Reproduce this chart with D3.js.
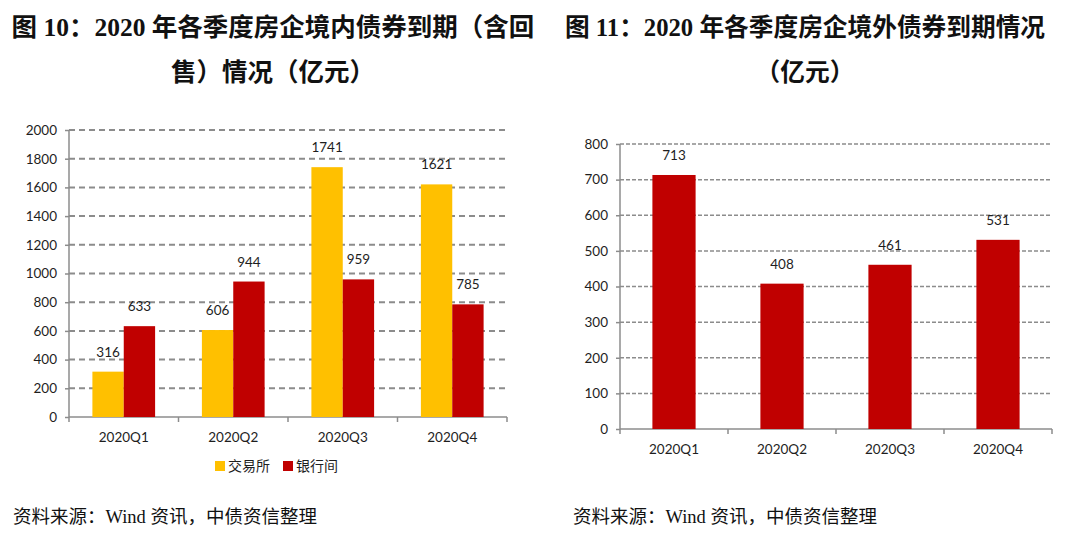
<!DOCTYPE html>
<html>
<head>
<meta charset="utf-8">
<script src="https://cdn.jsdelivr.net/npm/d3@7"></script>
<style>
  html, body { margin: 0; padding: 0; background: #fff; }
  svg { display: block; }
</style>
</head>
<body>
<svg id="chart" width="1080" height="535"></svg>
<script>
// ---- data ----
const categories = ["2020Q1", "2020Q2", "2020Q3", "2020Q4"];
const seriesNames = ["交易所", "银行间"];
const exchangeValues = [316, 606, 1741, 1621];
const interbankValues = [633, 944, 959, 785];
const offshoreValues = [713, 408, 461, 531];
const leftTicks = [0, 200, 400, 600, 800, 1000, 1200, 1400, 1600, 1800, 2000];
const rightTicks = [0, 100, 200, 300, 400, 500, 600, 700, 800];
const titleLeft = ["图 10：2020 年各季度房企境内债券到期（含回", "售）情况（亿元）"];
const titleRight = ["图 11：2020 年各季度房企境外债券到期情况", "（亿元）"];
const sourceText = "资料来源：Wind 资讯，中债资信整理";

const colors = { "交易所": "#FFC000", "银行间": "#C00000" };
const AXIS = "#8c8c8c";
const LABEL = "#1e1e1e";
const NUMFONT = "Lato, 'Open Sans', sans-serif";
const TITLEFONT = "'Liberation Serif', 'Noto Sans CJK SC', serif";
const CJK = "'Noto Sans CJK SC', sans-serif";

const svg = d3.select("#chart");

// ---- titles & sources ----
function title(lines, cx, size) {
  svg.append("text").attr("x", cx).attr("y", 36).attr("text-anchor", "middle")
    .attr("font-family", TITLEFONT).attr("font-weight", "bold").attr("font-size", size)
    .attr("fill", "#111").text(lines[0]);
  svg.append("text").attr("x", cx).attr("y", 81).attr("text-anchor", "middle")
    .attr("font-family", TITLEFONT).attr("font-weight", "bold").attr("font-size", size)
    .attr("fill", "#111").text(lines[1]);
}
title(titleLeft, 273, 25.5);
title(titleRight, 805, 24.7);
[13, 573].forEach(x => {
  svg.append("text").attr("x", x).attr("y", 523)
    .attr("font-family", TITLEFONT).attr("font-size", 18.5).attr("fill", "#111").text(sourceText);
});

// ---- generic chart frame ----
function frame(g, x, y, ticks, x0, x1, dash, gridWidth, labelOffset) {
  g.selectAll(".grid").data(ticks.filter(t => t !== 0)).join("line")
    .attr("x1", x0).attr("x2", x1)
    .attr("y1", d => y(d)).attr("y2", d => y(d))
    .attr("stroke", AXIS).attr("stroke-width", gridWidth).attr("stroke-dasharray", dash);
  const ya = d3.axisLeft(y).tickValues(ticks).tickFormat(d3.format("d")).tickSize(4).tickPadding(8);
  const yg = g.append("g").attr("transform", `translate(${x0},0)`).call(ya);
  yg.select(".domain").attr("stroke", AXIS).attr("stroke-width", 1.5).attr("d", `M0,${y(0)}V${y(ticks[ticks.length-1])}`);
  yg.selectAll(".tick line").attr("stroke", AXIS).attr("stroke-width", 1.5);
  yg.selectAll(".tick text").attr("font-family", NUMFONT).attr("font-size", 13.5).attr("fill", LABEL);
  g.append("line").attr("x1", x0).attr("x2", x1).attr("y1", y(0)).attr("y2", y(0))
    .attr("stroke", AXIS).attr("stroke-width", 1.5);
  const bounds = d3.range(categories.length + 1).map(i => x.range()[0] + i * x.step());
  g.selectAll(".xt").data(bounds).join("line")
    .attr("x1", d => d).attr("x2", d => d).attr("y1", y(0)).attr("y2", y(0) + 5)
    .attr("stroke", AXIS).attr("stroke-width", 1.5);
  g.selectAll(".xl").data(categories).join("text")
    .attr("x", d => x(d) + x.bandwidth() / 2).attr("y", y(0) + labelOffset)
    .attr("text-anchor", "middle").attr("font-family", NUMFONT).attr("font-size", 13.5)
    .attr("fill", LABEL).text(d => d);
}

// ---- left chart ----
{
  const g = svg.append("g");
  const x = d3.scaleBand().domain(categories).range([69, 507]).padding(0);
  const y = d3.scaleLinear().domain([0, 2000]).range([417, 130]);
  frame(g, x, y, leftTicks, 69, 507, "6,4", 2, 25);
  const inner = d3.scaleBand().domain(seriesNames).range([0, x.bandwidth()])
    .paddingInner(0).paddingOuter(0.746);
  const rows = categories.map((c, i) => ({ c, vals: [
    { s: seriesNames[0], v: exchangeValues[i] },
    { s: seriesNames[1], v: interbankValues[i] }] }));
  const grp = g.selectAll(".grp").data(rows).join("g")
    .attr("transform", d => `translate(${x(d.c)},0)`);
  grp.selectAll("rect").data(d => d.vals).join("rect")
    .attr("x", d => inner(d.s)).attr("width", inner.bandwidth())
    .attr("y", d => y(d.v)).attr("height", d => y(0) - y(d.v))
    .attr("fill", d => colors[d.s]);
  grp.selectAll(".vl").data(d => d.vals).join("text")
    .attr("x", d => inner(d.s) + inner.bandwidth() / 2).attr("y", d => y(d.v) - 15)
    .attr("text-anchor", "middle").attr("font-family", NUMFONT).attr("font-size", 13.5)
    .attr("fill", LABEL).text(d => d.v);
  const lg = g.append("g");
  const lx = [215, 283];
  seriesNames.forEach((s, i) => {
    lg.append("rect").attr("x", lx[i]).attr("y", 461).attr("width", 10).attr("height", 10).attr("fill", colors[s]);
    lg.append("text").attr("x", lx[i] + 13).attr("y", 471).attr("font-family", CJK)
      .attr("font-size", 14).attr("fill", LABEL).text(s);
  });
}

// ---- right chart ----
{
  const g = svg.append("g");
  const x = d3.scaleBand().domain(categories).range([620, 1052]).paddingInner(0.6).paddingOuter(0.3);
  const y = d3.scaleLinear().domain([0, 800]).range([429, 144]);
  const xb = d3.scaleBand().domain(categories).range([620, 1052]).padding(0);
  frame(g, xb, y, rightTicks, 620, 1052, "4,2", 1.5, 25);
  g.selectAll(".bar").data(categories).join("rect")
    .attr("x", d => x(d)).attr("width", x.bandwidth())
    .attr("y", (d, i) => y(offshoreValues[i])).attr("height", (d, i) => y(0) - y(offshoreValues[i]))
    .attr("fill", "#C00000");
  g.selectAll(".vl").data(categories).join("text")
    .attr("x", d => x(d) + x.bandwidth() / 2).attr("y", (d, i) => y(offshoreValues[i]) - 15)
    .attr("text-anchor", "middle").attr("font-family", NUMFONT).attr("font-size", 13.5)
    .attr("fill", LABEL).text((d, i) => offshoreValues[i]);
}
</script>
</body>
</html>
